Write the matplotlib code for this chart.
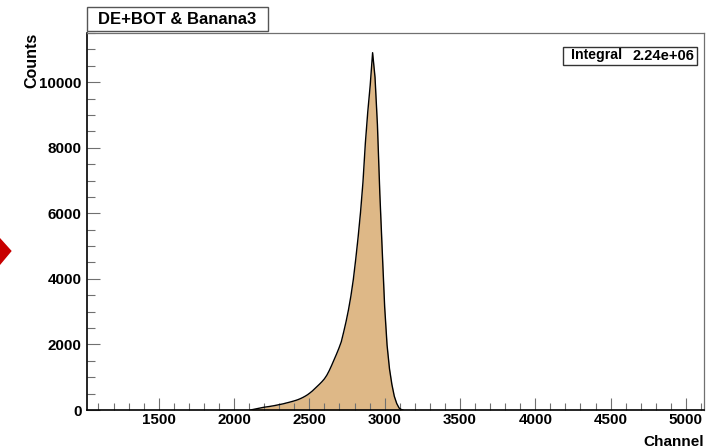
import numpy as np
import matplotlib
matplotlib.use("Agg")
import matplotlib.pyplot as plt
from matplotlib.patches import Rectangle, Polygon
from matplotlib.ticker import MultipleLocator

plt.rcParams['font.family'] = ['Liberation Sans', 'DejaVu Sans']
plt.rcParams['font.weight'] = 'bold'

# spectrum sampled every 16 channels over the non-empty region
bin_width = 16
first_center = 2120
counts = [10, 25, 40, 55, 70, 85, 95, 105, 118, 130,
          145, 160, 175, 190, 210, 228, 248, 268, 290, 315,
          345, 380, 420, 465, 520, 580, 650, 720, 790, 865,
          950, 1060, 1200, 1360, 1530, 1700, 1880, 2080, 2380, 2700,
          3060, 3480, 3980, 4600, 5280, 6040, 6950, 8150, 9100, 9900,
          10900, 10150, 8700, 6600, 4850, 3150, 1980, 1260, 780, 420,
          200, 60, 10]
channels = first_center + bin_width * np.arange(len(counts))

x_range = (1024, 5120)
y_max = 11500
title = "DE+BOT & Banana3"
integral = "2.24e+06"

fig = plt.figure(figsize=(7.12, 4.48), dpi=100)
W, H = 712, 448

# axes frame in pixel units
left, right, top, bottom = 87, 704, 33, 410
ax = fig.add_axes([left / W, 1 - bottom / H, (right - left) / W, (bottom - top) / H])

# close the outline down to zero on both sides
xs = np.concatenate([[channels[0] - bin_width / 2], channels, [channels[-1] + bin_width / 2]])
ys = np.concatenate([[0], counts, [0]])
ax.fill_between(xs, ys, 0, color='#deb887', linewidth=0)
ax.plot(xs, ys, color='black', linewidth=1.0)

ax.set_xlim(*x_range)
ax.set_ylim(0, y_max)

ax.xaxis.set_major_locator(MultipleLocator(500))
ax.xaxis.set_minor_locator(MultipleLocator(100))
ax.yaxis.set_major_locator(MultipleLocator(2000))
ax.yaxis.set_minor_locator(MultipleLocator(500))

ax.tick_params(axis='x', which='major', direction='in', length=8.6, width=0.8,
               color='#707070', pad=2.5, labelsize=10.9)
ax.tick_params(axis='x', which='minor', direction='in', length=5, width=0.8,
               color='#707070')
ax.tick_params(axis='y', which='major', direction='in', length=9.4, width=0.8,
               color='#707070', pad=3.8, labelsize=10.9)
ax.tick_params(axis='y', which='minor', direction='in', length=5.8, width=0.8,
               color='#707070')

for s in ['left', 'bottom']:
    ax.spines[s].set_color('black')
    ax.spines[s].set_linewidth(1.2)
for s in ['top', 'right']:
    ax.spines[s].set_color('#707070')
    ax.spines[s].set_linewidth(0.9)

ax.set_xlabel("Channel", fontsize=11, fontweight='bold')
ax.xaxis.set_label_coords(1.0, -0.065)
ax.xaxis.label.set_horizontalalignment('right')
ax.set_ylabel("Counts", fontsize=11.5, fontweight='bold')
ax.yaxis.set_label_coords(-0.09, 1.0)
ax.yaxis.label.set_verticalalignment('center')
ax.yaxis.label.set_horizontalalignment('right')

# title box
fig.patches.append(Rectangle((86.7 / W, 1 - 30.7 / H), (268 - 86.7) / W, 23.4 / H,
                             transform=fig.transFigure, facecolor='white',
                             edgecolor='#555555', linewidth=1.0))
fig.text(177.4 / W, 1 - 19.2 / H, title, ha='center', va='center',
         fontsize=12, fontweight='bold')

# stats box
fig.patches.append(Rectangle((562.7 / W, 1 - 65 / H), (696.7 - 562.7) / W, 18.3 / H,
                             transform=fig.transFigure, facecolor='white',
                             edgecolor='#333333', linewidth=1.0))
fig.text(570.5 / W, 1 - 55.5 / H, "Integral", ha='left', va='center',
         fontsize=10.2, fontweight='bold')
fig.text(694 / W, 1 - 55.5 / H, integral, ha='right', va='center',
         fontsize=10.5, fontweight='bold')

# red marker at the left edge
fig.patches.append(Polygon([(0, 1 - 238 / H), (11.7 / W, 1 - 251 / H), (0, 1 - 265 / H)],
                           closed=True, transform=fig.transFigure,
                           facecolor='#c80000', edgecolor='none'))

fig.savefig("out.png", dpi=100)
